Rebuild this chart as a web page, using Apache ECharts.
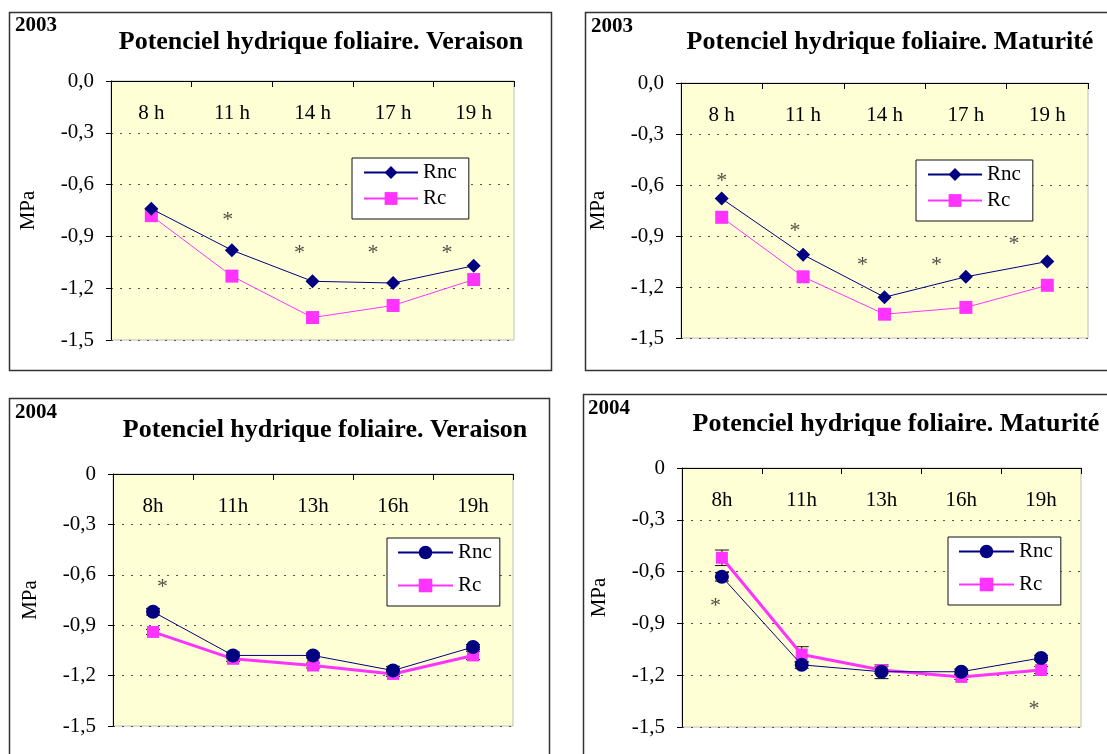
<!DOCTYPE html>
<html><head><meta charset="utf-8">
<script src="https://cdn.jsdelivr.net/npm/echarts@6/dist/echarts.min.js"></script>
<style>html,body{margin:0;padding:0;background:#fff}#c{width:1107px;height:754px}</style>
</head><body><div id="c"></div>
<script>
// ---- categories & tick labels ----
const cats2003 = ['8 h', '11 h', '14 h', '17 h', '19 h'];
const cats2004 = ['8h', '11h', '13h', '16h', '19h'];
const yLabels2003 = ['-1,5', '-1,2', '-0,9', '-0,6', '-0,3', '0,0'];
const yLabels2004 = ['-1,5', '-1,2', '-0,9', '-0,6', '-0,3', '0'];

// ---- series values (MPa) ----
const ver2003Rnc = [-0.74, -0.98, -1.16, -1.17, -1.07];
const ver2003Rc  = [-0.78, -1.13, -1.37, -1.30, -1.15];
const mat2003Rnc = [-0.68, -1.01, -1.26, -1.14, -1.05];
const mat2003Rc  = [-0.79, -1.14, -1.36, -1.32, -1.19];
const ver2004Rnc = [-0.82, -1.08, -1.08, -1.17, -1.03];
const ver2004Rc  = [-0.94, -1.10, -1.14, -1.19, -1.08];
const mat2004Rnc = [-0.63, -1.14, -1.18, -1.18, -1.10];
const mat2004Rc  = [-0.52, -1.08, -1.17, -1.21, -1.17];

// ---- error bars (± MPa) ----
const ver2004RncErr = [0.02, 0.02, 0.015, 0.025, 0.015];
const ver2004RcErr  = [0.015, 0.015, 0.015, 0.015, 0.025];
const mat2004RncErr = [0.025, 0.02, 0.04, 0.015, 0.015];
const mat2004RcErr  = [0.045, 0.045, 0.02, 0.015, 0.02];

// ---- significance asterisks: [position in category units, MPa] ----
const ver2003Stars = [[0.95, -0.78], [1.84, -0.97], [2.75, -0.97], [3.67, -0.97]];
const mat2003Stars = [[0.00, -0.55], [0.90, -0.84], [1.73, -1.04], [2.64, -1.04], [3.59, -0.92]];
const ver2004Stars = [[0.12, -0.645]];
const mat2004Stars = [[-0.08, -0.77], [3.91, -1.37]];

const titles = ['Potenciel hydrique foliaire. Veraison', 'Potenciel hydrique foliaire. Maturité',
                'Potenciel hydrique foliaire. Veraison', 'Potenciel hydrique foliaire. Maturité'];
const years = ['2003', '2003', '2004', '2004'];

const SERIF = "'Liberation Serif', 'Times New Roman', serif";
const NAVY = '#000080', MAG = '#FF33FF';

const panels = [
  {grid: {left: 111, top: 81, width: 403, height: 259}, cats: cats2003, yl: yLabels2003,
   rnc: ver2003Rnc, rc: ver2003Rc, stars: ver2003Stars, style: 2003,
   legend: {left: 352, top: 158}, title: [321, 42], year: [15, 26],
   border: [9.5, 12.5, 542, 358]},
  {grid: {left: 681, top: 83, width: 407, height: 255}, cats: cats2003, yl: yLabels2003,
   rnc: mat2003Rnc, rc: mat2003Rc, stars: mat2003Stars, style: 2003,
   legend: {left: 916, top: 160}, title: [890, 42], year: [591, 27],
   border: [585.5, 12.5, 540, 358]},
  {grid: {left: 113, top: 474, width: 400, height: 252}, cats: cats2004, yl: yLabels2004,
   rnc: ver2004Rnc, rc: ver2004Rc, rncErr: ver2004RncErr, rcErr: ver2004RcErr, stars: ver2004Stars, style: 2004,
   legend: {left: 387, top: 538}, title: [325, 430], year: [15, 413],
   border: [9.5, 398.5, 540, 380]},
  {grid: {left: 682, top: 468, width: 399, height: 259}, cats: cats2004, yl: yLabels2004,
   rnc: mat2004Rnc, rc: mat2004Rc, rncErr: mat2004RncErr, rcErr: mat2004RcErr, stars: mat2004Stars, style: 2004,
   legend: {left: 948, top: 537}, title: [896, 424], year: [588, 409],
   border: [583.5, 394.5, 540, 380]}
];

const grid = [], xAxis = [], yAxis = [], series = [], legend = [], graphic = [];

function errorSeries(catIdx, yIdx, vals, errs) {
  return {
    type: 'custom', xAxisIndex: catIdx, yAxisIndex: yIdx, z: 1, silent: true,
    data: vals.map((v, k) => [k, v, errs[k]]),
    renderItem: (params, api) => {
      const k = api.value(0), v = api.value(1), e = api.value(2);
      const a = api.coord([k, v + e]), b = api.coord([k, v - e]);
      const w = 7, st = {stroke: '#111', lineWidth: 1};
      return {type: 'group', children: [
        {type: 'line', shape: {x1: a[0], y1: a[1], x2: b[0], y2: b[1]}, style: st},
        {type: 'line', shape: {x1: a[0] - w, y1: a[1], x2: a[0] + w, y2: a[1]}, style: st},
        {type: 'line', shape: {x1: b[0] - w, y1: b[1], x2: b[0] + w, y2: b[1]}, style: st}
      ]};
    }
  };
}

panels.forEach((p, i) => {
  grid.push(Object.assign({show: true, backgroundColor: '#FFFFD6', borderColor: '#bdbdbd', borderWidth: 1,
    containLabel: false, outerBoundsMode: 'none'}, p.grid));
  const catIdx = xAxis.length;
  xAxis.push({
    type: 'category', gridIndex: i, position: 'top', data: p.cats, boundaryGap: true,
    axisLine: {show: true, lineStyle: {color: '#000', width: 1}},
    axisTick: {show: true, inside: true, length: 6, lineStyle: {color: '#000'}},
    axisLabel: {inside: true, margin: 22, color: '#000', fontFamily: SERIF, fontSize: 21},
    splitLine: {show: false}
  });
  const starIdx = xAxis.length;
  xAxis.push({type: 'value', gridIndex: i, min: -0.5, max: 4.5, show: false, splitLine: {show: false}});
  yAxis.push({
    type: 'value', gridIndex: i, min: -1.5, max: 0, interval: 0.3,
    name: 'MPa', nameLocation: 'middle', nameRotate: 90, nameGap: 72,
    nameTextStyle: {color: '#000', fontFamily: SERIF, fontSize: 21},
    axisLine: {show: true, onZero: false, lineStyle: {color: '#000', width: 1}},
    axisTick: {show: true, inside: false, length: 5, lineStyle: {color: '#000'}},
    axisLabel: {margin: 17, color: '#000', fontFamily: SERIF, fontSize: 21,
      formatter: (v, idx) => p.yl[idx]},
    splitLine: {show: true, lineStyle: {color: '#555', width: 1, type: [2, 7]}}
  });

  const is04 = p.style === 2004;
  const nRnc = 'Rnc_' + i, nRc = 'Rc_' + i;
  series.push({
    type: 'line', name: nRnc, xAxisIndex: catIdx, yAxisIndex: i, data: p.rnc, z: 3,
    symbol: is04 ? 'circle' : 'diamond', symbolSize: is04 ? 14 : 14, showAllSymbol: true,
    itemStyle: {color: NAVY, borderWidth: 0},
    lineStyle: {color: NAVY, width: 1}, animation: false
  });
  series.push({
    type: 'line', name: nRc, xAxisIndex: catIdx, yAxisIndex: i, data: p.rc, z: 2,
    symbol: 'rect', symbolSize: is04 ? 12 : 13, showAllSymbol: true,
    itemStyle: {color: MAG, borderWidth: 0},
    lineStyle: {color: MAG, width: is04 ? 3 : 1}, animation: false
  });
  if (p.rncErr) series.push(errorSeries(catIdx, i, p.rnc, p.rncErr));
  if (p.rcErr) series.push(errorSeries(catIdx, i, p.rc, p.rcErr));
  series.push({
    type: 'scatter', xAxisIndex: starIdx, yAxisIndex: i, data: p.stars, z: 4, silent: true,
    symbolSize: 1, itemStyle: {color: 'rgba(0,0,0,0)'},
    label: {show: true, position: 'inside', formatter: '*', color: '#222',
      fontFamily: SERIF, fontSize: 22, offset: [0, 5]},
    animation: false
  });

  legend.push({
    left: p.legend.left, top: p.legend.top, orient: 'vertical', data: [nRnc, nRc],
    formatter: n => n.split('_')[0], selectedMode: false,
    backgroundColor: '#fff', borderColor: '#111', borderWidth: 1, borderRadius: 0,
    padding: is04 ? [4, 8, 10, 10] : [4, 12, 10, 11],
    itemGap: is04 ? 12 : 5, itemWidth: is04 ? 55 : 54, itemHeight: is04 ? 17 : 16,
    textStyle: {color: '#000', fontFamily: SERIF, fontSize: 21}
  });

  graphic.push({type: 'rect', silent: true, z: -10,
    shape: {x: p.border[0], y: p.border[1], width: p.border[2], height: p.border[3]},
    style: {fill: 'none', stroke: '#333', lineWidth: 1.5}});
  graphic.push({type: 'text', silent: true, x: p.title[0], y: p.title[1],
    style: {text: titles[i], fill: '#000', font: 'bold 26px ' + SERIF, textAlign: 'center', textVerticalAlign: 'middle'}});
  graphic.push({type: 'text', silent: true, x: p.year[0], y: p.year[1],
    style: {text: years[i], fill: '#000', font: 'bold 21px ' + SERIF, textAlign: 'left', textVerticalAlign: 'middle'}});
});

const chart = echarts.init(document.getElementById('c'), null, {renderer: 'canvas'});
chart.setOption({animation: false, backgroundColor: '#fff', grid, xAxis, yAxis, series, legend, graphic});
</script></body></html>
